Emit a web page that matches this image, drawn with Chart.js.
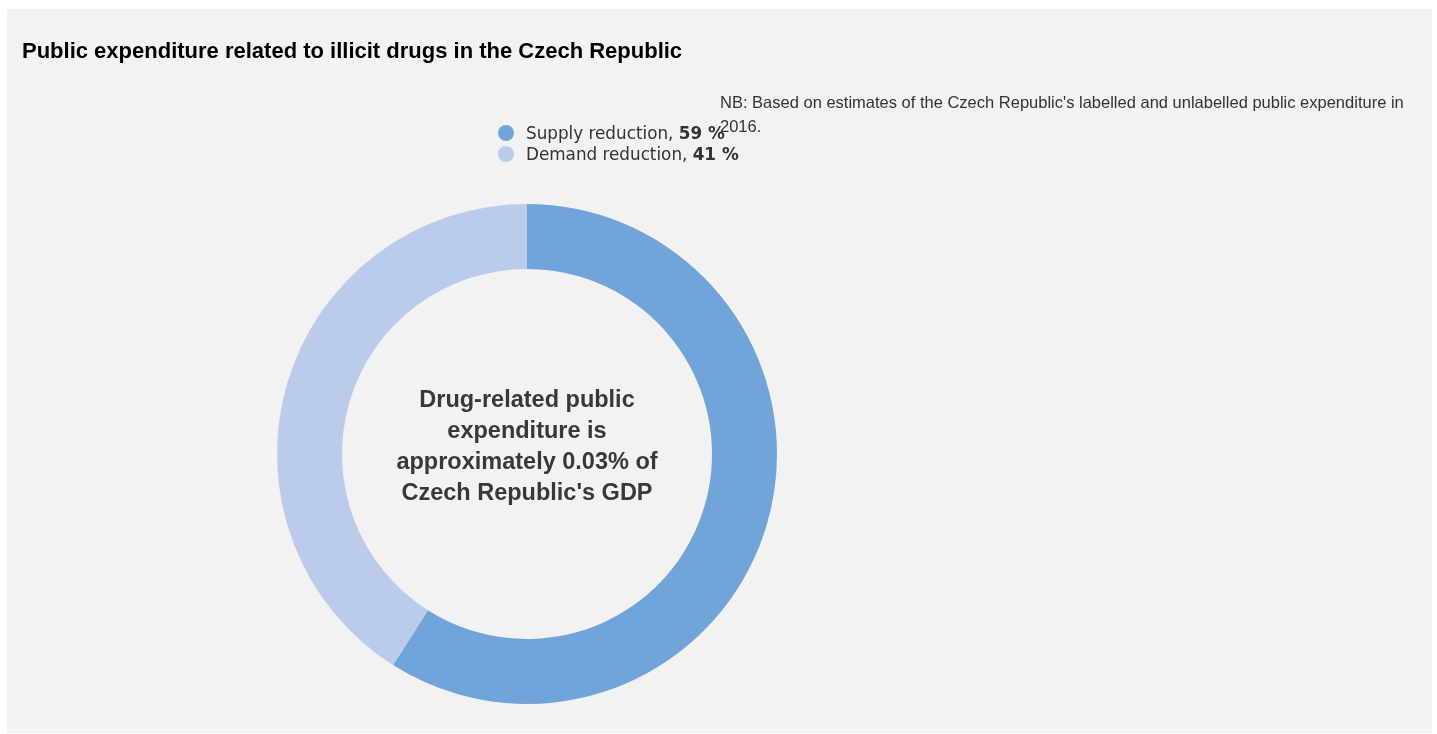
<!DOCTYPE html>
<html>
<head>
<meta charset="utf-8">
<script src="https://cdn.jsdelivr.net/npm/chart.js@4/dist/chart.umd.min.js"></script>
<style>
  html, body { margin: 0; padding: 0; background: #ffffff; }
  #panel {
    position: absolute; left: 7px; top: 9px;
    width: 1425px; height: 724px;
    background: #f2f2f2;
  }
  #panel canvas { display: block; }
</style>
</head>
<body>
<div id="panel"><canvas id="chart" width="1425" height="724"></canvas></div>
<script>
// Spending split by policy area (share of total, %)
const categories = ['Supply reduction', 'Demand reduction'];
const shares = [59, 41];
const colours = ['#71a5da', '#bbcceb'];

const titleText = 'Public expenditure related to illicit drugs in the Czech Republic';
const noteLines = [
  "NB: Based on estimates of the Czech Republic's labelled and unlabelled public expenditure in",
  '2016.'
];
const centreLines = [
  'Drug-related public',
  'expenditure is',
  'approximately 0.03% of',
  "Czech Republic's GDP"
];

// Draws the heading, the footnote, the legend and the label in the ring's hole
const decorations = {
  id: 'decorations',
  afterDraw(chart) {
    const ctx = chart.ctx;
    ctx.save();

    // heading
    ctx.fillStyle = '#000000';
    ctx.font = 'bold 22px "Liberation Sans", Arial, sans-serif';
    ctx.textBaseline = 'middle';
    ctx.textAlign = 'left';
    ctx.fillText(titleText, 15, 43);

    // footnote
    ctx.fillStyle = '#333333';
    ctx.font = '16.5px "Liberation Sans", Arial, sans-serif';
    noteLines.forEach((line, i) => ctx.fillText(line, 713, 94 + i * 24));

    // legend
    const labels = chart.data.labels;
    const ds = chart.data.datasets[0];
    labels.forEach((label, i) => {
      const y = 124 + i * 21;
      ctx.fillStyle = ds.backgroundColor[i];
      ctx.beginPath();
      ctx.arc(499, y, 8, 0, Math.PI * 2);
      ctx.fill();
      ctx.fillStyle = '#333333';
      ctx.font = '16.8px "DejaVu Sans", Verdana, sans-serif';
      const head = label + ', ';
      ctx.fillText(head, 519, y + 2);
      const w = ctx.measureText(head).width;
      ctx.font = 'bold 16.8px "DejaVu Sans", Verdana, sans-serif';
      ctx.fillText(ds.data[i] + ' %', 519 + w, y + 2);
    });

    // label in the ring's hole
    const arc = chart.getDatasetMeta(0).data[0];
    ctx.fillStyle = '#383838';
    ctx.font = 'bold 23.5px "Liberation Sans", Arial, sans-serif';
    ctx.textAlign = 'center';
    const n = centreLines.length;
    centreLines.forEach((line, i) => {
      ctx.fillText(line, arc.x, arc.y + (i - (n - 1) / 2) * 31.3 - 7);
    });

    ctx.restore();
  }
};

new Chart(document.getElementById('chart'), {
  type: 'doughnut',
  data: {
    labels: categories,
    datasets: [{
      data: shares,
      backgroundColor: colours,
      hoverBackgroundColor: colours,
      borderWidth: 0
    }]
  },
  options: {
    responsive: false,
    animation: false,
    cutout: '74%',
    layout: { padding: { left: 270, top: 195, right: 655, bottom: 29 } },
    plugins: {
      legend: { display: false },
      title: { display: false },
      tooltip: { enabled: false }
    }
  },
  plugins: [decorations]
});
</script>
</body>
</html>
